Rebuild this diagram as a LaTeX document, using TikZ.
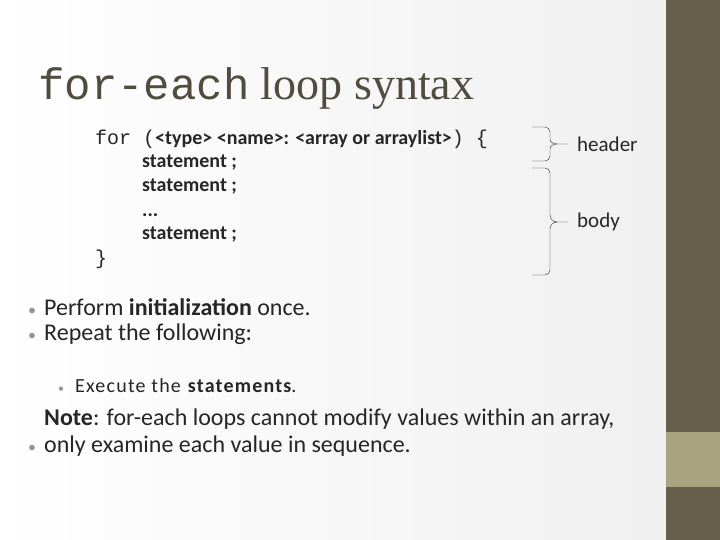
\documentclass[tikz,border=0pt]{standalone}
\usepackage{fontspec}
\setmainfont{Carlito}
\newfontfamily\titlefont{Liberation Serif}
\setmonofont{Liberation Mono}
\definecolor{BarOlive}{RGB}{102, 94, 74}
\definecolor{BarLight}{RGB}{168, 164, 128}
\definecolor{TitleGrey}{RGB}{80, 76, 64}
\definecolor{TextGrey}{RGB}{38, 38, 38}
\definecolor{BulletGrey}{RGB}{150, 150, 140}
\usetikzlibrary{positioning, calc}

\tikzset{
  codeline/.style={anchor=base west, font=\fontsize{20}{24}\selectfont, text=TextGrey, inner sep=0pt},
  stmt/.style={anchor=base west, font=\fontsize{20}{24}\selectfont\bfseries, text=TextGrey, inner sep=0pt},
  bullettext/.style={anchor=base west, font=\fontsize{24}{27}\selectfont, text=TextGrey, inner sep=0pt, align=left},
  bulletdot/.style={anchor=base west, font=\fontsize{16}{18}\selectfont, text=BulletGrey, inner sep=0pt},
  bracelabel/.style={anchor=west, font=\fontsize{21}{24}\selectfont, text=TextGrey, inner sep=0pt}
}

\begin{document}
\begin{tikzpicture}[x=1pt, y=-1pt]
    \useasboundingbox (0,0) rectangle (720,540);
    \shade[left color=white, right color=gray!12] (0,0) rectangle (666,540);
    \fill[BarOlive] (666,0) rectangle (720,540);
    \fill[BarLight] (666,432) rectangle (720,487);

    % Title
    \node[anchor=base west, inner sep=0pt, text=TitleGrey] (title) at (38,100)
        {\fontsize{44}{48}\selectfont\ttfamily for-each\titlefont\fontsize{46}{48}\selectfont\ loop syntax};

    % Code
    \node[codeline] (forline) at (95,145)
        {\ttfamily for (\textbf{\rmfamily<type> <name>: <array or arraylist>})~\{};
    \node[stmt] (s1) at (142,168) {statement ;};
    \node[stmt] (s2) at (142,192) {statement ;};
    \node[stmt] (s3) at (142,216) {...};
    \node[stmt] (s4) at (142,240) {statement ;};
    \node[codeline] (close) at (95,264) {\ttfamily \}};

    % Braces
    \coordinate (h1) at (532,127);
    \coordinate (h2) at (532,161);
    \coordinate (b1) at (532,168);
    \coordinate (b2) at (532,275);
    \draw[TextGrey] (h1) -- (545,127) to[out=0,in=90] (550,132) -- (550,139)
        to[out=-90,in=180] (557,144) -- (568,144);
    \draw[TextGrey] (h2) -- (545,161) to[out=0,in=-90] (550,156) -- (550,149)
        to[out=90,in=180] (557,144);
    \draw[TextGrey] (b1) -- (545,168) to[out=0,in=90] (550,173) -- (550,215)
        to[out=-90,in=180] (557,222) -- (568,222);
    \draw[TextGrey] (b2) -- (545,275) to[out=0,in=-90] (550,270) -- (550,229)
        to[out=90,in=180] (557,222);
    \node[bracelabel] (header) at (577,144) {header};
    \node[bracelabel] (body) at (577,222) {body};

    % Bullets
    \node[bulletdot] (d1) at (28,315) {•};
    \node[bullettext] (p1) at (44,315) {Perform \textbf{initialization} once.};
    \node[bulletdot] (d2) at (28,340) {•};
    \node[bullettext] (p2) at (44,340) {Repeat the following:};
    \node[bulletdot, font=\fontsize{12}{13}\selectfont] (d3) at (58,392) {•};
    \node[bullettext, font=\fontsize{20}{22}\selectfont] (p3) at (75,392)
        {\addfontfeatures{LetterSpace=6}Execute the \textbf{statements}.};
    \node[bulletdot] (d4) at (28,452) {•};
    \node[bullettext] (p4) at (44,452)
        {\textbf{Note}: for-each loops cannot modify values within an array,\\only examine each value in sequence.};
\end{tikzpicture}
\end{document}
